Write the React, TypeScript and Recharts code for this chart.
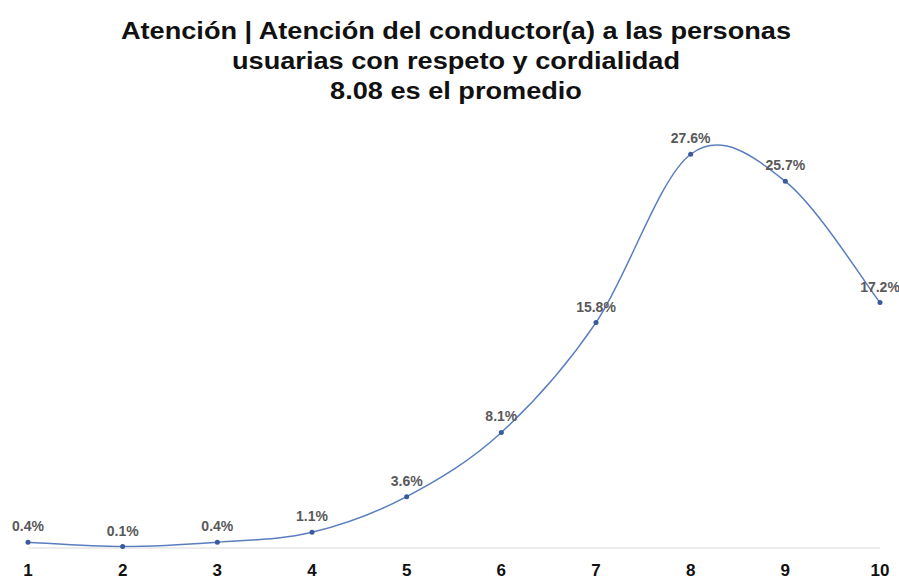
import { LineChart, Line, XAxis, YAxis, LabelList } from "recharts";

const scores = ["1", "2", "3", "4", "5", "6", "7", "8", "9", "10"];
const shares = [0.4, 0.1, 0.4, 1.1, 3.6, 8.1, 15.8, 27.6, 25.7, 17.2];
const titleLines = [
  "Atención | Atención del conductor(a) a las personas",
  "usuarias con respeto y cordialidad",
  "8.08 es el promedio",
];

const data = scores.map((score, i) => ({ score, share: shares[i] }));

// Catmull-Rom smoothing, close to a spreadsheet "smoothed line"
function smoothCurve(context: any) {
  let pts: [number, number][] = [];
  return {
    areaStart() {},
    areaEnd() {},
    lineStart() {
      pts = [];
    },
    lineEnd() {
      const n = pts.length;
      if (!n) return;
      context.moveTo(pts[0][0], pts[0][1]);
      for (let i = 0; i < n - 1; i++) {
        const p0 = pts[i - 1] || pts[i];
        const p1 = pts[i];
        const p2 = pts[i + 1];
        const p3 = pts[i + 2] || p2;
        context.bezierCurveTo(
          p1[0] + (p2[0] - p0[0]) / 6,
          p1[1] + (p2[1] - p0[1]) / 6,
          p2[0] - (p3[0] - p1[0]) / 6,
          p2[1] - (p3[1] - p1[1]) / 6,
          p2[0],
          p2[1]
        );
      }
    },
    point(x: number, y: number) {
      pts.push([+x, +y]);
    },
  };
}

export default function App() {
  return (
    <div
      style={{
        position: "absolute",
        left: 0,
        top: 0,
        width: 899,
        height: 588,
        background: "#fff",
        fontFamily: "'Liberation Sans', Arial, sans-serif",
      }}
    >
      <div
        style={{
          position: "absolute",
          top: 16,
          left: 0,
          width: 912,
          textAlign: "center",
          fontWeight: "bold",
          fontSize: 23,
          lineHeight: "30px",
          color: "#111",
          transform: "scaleX(1.18)",
          transformOrigin: "456px 0",
        }}
      >
        {titleLines.map((t) => (
          <div key={t}>{t}</div>
        ))}
      </div>
      <LineChart
        width={899}
        height={588}
        data={data}
        margin={{ top: 120, right: 19, bottom: 0, left: 28 }}
      >
        <XAxis
          dataKey="score"
          axisLine={{ stroke: "#d9d9d9" }}
          tickLine={false}
          height={40}
          tickMargin={10}
          interval={0}
          tick={{ fill: "#111", fontSize: 17, fontWeight: "bold" }}
        />
        <YAxis hide domain={[0, 30]} />
        <Line
          type={smoothCurve as any}
          dataKey="share"
          stroke="#5a7ec0"
          strokeWidth={1.5}
          dot={{ r: 2.5, fill: "#3a5a98", stroke: "#3a5a98", strokeWidth: 0 }}
          isAnimationActive={false}
        >
          <LabelList
            dataKey="share"
            position="top"
            offset={11}
            formatter={(v) => `${Number(v).toFixed(1)}%`}
            style={{ fill: "#595959", fontSize: 14, fontWeight: "bold" }}
          />
        </Line>
      </LineChart>
    </div>
  );
}
